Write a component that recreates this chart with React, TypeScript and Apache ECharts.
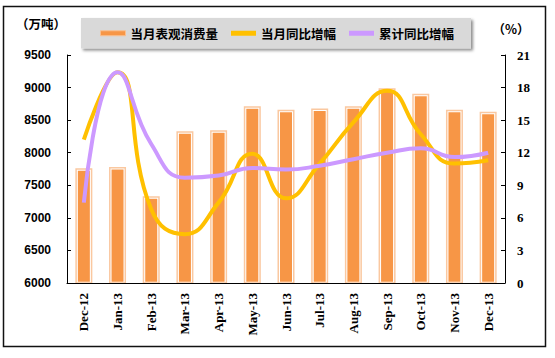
import React, { useEffect, useRef } from 'react';
import * as echarts from 'echarts';

const categories = ['Dec-12', 'Jan-13', 'Feb-13', 'Mar-13', 'Apr-13', 'May-13', 'Jun-13', 'Jul-13', 'Aug-13', 'Sep-13', 'Oct-13', 'Nov-13', 'Dec-13'];
const consumption = [7760, 7780, 7330, 8330, 8345, 8715, 8660, 8680, 8715, 8990, 8905, 8660, 8630];
const monthlyGrowth = [13.2, 19.4, 6.8, 4.5, 7.4, 11.9, 7.8, 11.0, 14.8, 17.7, 13.7, 11.0, 11.3];
const cumulativeGrowth = [7.4, 19.4, 12.8, 9.7, 9.9, 10.6, 10.45, 10.8, 11.4, 12.0, 12.4, 11.6, 12.0];
const seriesNames = ['当月表观消费量', '当月同比增幅', '累计同比增幅'];
const leftUnit = '（万吨）';
const rightUnit = '（%）';

const cjk = '"Noto Sans CJK SC", sans-serif';

export default function App() {
  const ref = useRef<HTMLDivElement>(null);
  useEffect(() => {
    if (!ref.current) return;
    const chart = echarts.init(ref.current, null, { renderer: 'svg' });
    chart.setOption({
      animation: false,
      backgroundColor: '#ffffff',
      grid: { left: 67, top: 55, width: 438, height: 228 },
      legend: {
        left: 81,
        top: 18,
        padding: [9, 17, 9, 19],
        itemGap: 13,
        itemWidth: 25,
        itemHeight: 5,
        backgroundColor: '#D9D9D9',
        shadowBlur: 3,
        shadowColor: 'rgba(0,0,0,0.45)',
        shadowOffsetX: 2,
        shadowOffsetY: 2,
        textStyle: { fontFamily: cjk, fontWeight: 'bold', fontSize: 12.5, color: '#000' },
        data: [
          { name: seriesNames[0], icon: 'rect', itemStyle: { color: '#F79646', borderColor: '#FAC090', borderWidth: 1 } },
          { name: seriesNames[1], icon: 'rect', itemStyle: { color: '#FFC000' } },
          { name: seriesNames[2], icon: 'rect', itemStyle: { color: '#CC99FF' } },
        ],
      },
      graphic: [
        {
          type: 'rect',
          shape: { x: 3.5, y: 6.5, width: 542, height: 340 },
          style: { fill: 'none', stroke: '#111', lineWidth: 1.5 },
          silent: true,
        },
        {
          type: 'text',
          x: 41,
          y: 23,
          style: { text: leftUnit, fontFamily: cjk, fontWeight: 'bold', fontSize: 12.5, fill: '#000', align: 'center', verticalAlign: 'middle' },
        },
        {
          type: 'text',
          x: 511,
          y: 28,
          style: { text: rightUnit, fontFamily: cjk, fontWeight: 'bold', fontSize: 12.5, fill: '#000', align: 'center', verticalAlign: 'middle' },
        },
      ],
      xAxis: {
        type: 'category',
        data: categories,
        z: 10,
        boundaryGap: true,
        axisLine: { lineStyle: { color: '#000', width: 1 } },
        axisTick: { inside: true, length: 4, alignWithLabel: false, lineStyle: { color: '#000' } },
        axisLabel: {
          rotate: 90,
          margin: 10,
          interval: 0,
          fontFamily: '"Liberation Serif", serif',
          fontWeight: 'bold',
          fontSize: 13,
          color: '#000',
        },
      },
      yAxis: [
        {
          type: 'value',
          min: 6000,
          max: 9500,
          interval: 500,
          z: 10,
          splitLine: { show: false },
          axisLine: { show: true, lineStyle: { color: '#000', width: 1 } },
          axisTick: { show: true, inside: true, length: 4, lineStyle: { color: '#000' } },
          axisLabel: {
            margin: 16,
            fontFamily: '"Liberation Sans", Arial, sans-serif',
            fontWeight: 'bold',
            fontSize: 12,
            color: '#000',
            formatter: (v: number) => String(v),
          },
        },
        {
          type: 'value',
          min: 0,
          max: 21,
          interval: 3,
          z: 10,
          position: 'right',
          splitLine: { show: false },
          axisLine: { show: true, lineStyle: { color: '#000', width: 1 } },
          axisTick: { show: true, inside: true, length: 4, lineStyle: { color: '#000' } },
          axisLabel: { margin: 12, fontFamily: '"Liberation Serif", serif', fontWeight: 'bold', fontSize: 13, color: '#000' },
        },
      ],
      series: [
        {
          name: seriesNames[0],
          type: 'bar',
          yAxisIndex: 0,
          barWidth: 17,
          data: consumption,
          itemStyle: { color: '#F79646', borderColor: '#ffffff', borderWidth: 2.5 },
        },
        {
          name: 'outline',
          type: 'bar',
          yAxisIndex: 0,
          barWidth: 17,
          barGap: '-100%',
          data: consumption,
          silent: true,
          itemStyle: { color: 'rgba(0,0,0,0)', borderColor: '#FAC8A0', borderWidth: 1.5 },
        },
        {
          name: seriesNames[1],
          type: 'line',
          yAxisIndex: 1,
          smooth: 0.5,
          symbol: 'none',
          data: monthlyGrowth,
          lineStyle: { color: '#FFC000', width: 4 },
          itemStyle: { color: '#FFC000' },
        },
        {
          name: seriesNames[2],
          type: 'line',
          yAxisIndex: 1,
          smooth: 0.5,
          symbol: 'none',
          data: cumulativeGrowth,
          lineStyle: { color: '#CC99FF', width: 4 },
          itemStyle: { color: '#CC99FF' },
        },
      ],
    });
    return () => chart.dispose();
  }, []);
  return <div ref={ref} style={{ position: 'fixed', left: 0, top: 0, width: 555, height: 358 }} />;
}
